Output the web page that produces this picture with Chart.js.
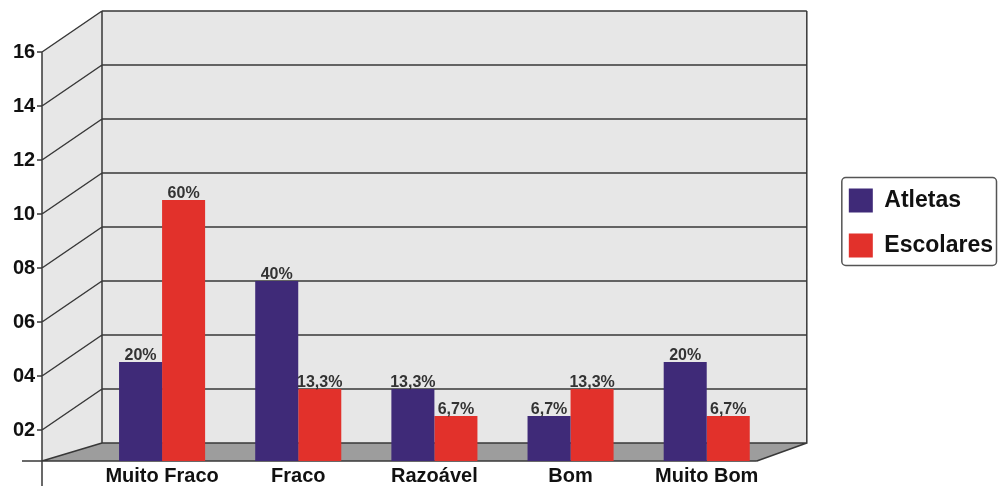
<!DOCTYPE html>
<html lang="pt">
<head>
<meta charset="utf-8">
<title>Atletas x Escolares</title>
<script src="https://cdn.jsdelivr.net/npm/chart.js@4.4.1/dist/chart.umd.min.js"></script>
<style>
  html, body { margin: 0; padding: 0; background: #fff; }
</style>
</head>
<body>
<canvas id="grafico" width="998" height="486"></canvas>
<script>
const categorias = ["Muito Fraco", "Fraco", "Razoável", "Bom", "Muito Bom"];
const atletas = [3, 6, 2, 1, 3];
const escolares = [9, 2, 1, 2, 1];
const atletasPct = ["20%", "40%", "13,3%", "6,7%", "20%"];
const escolaresPct = ["60%", "13,3%", "6,7%", "13,3%", "6,7%"];
const ticksY = [2, 4, 6, 8, 10, 12, 14, 16];

// profundidade do "chão" em unidades do eixo (18px / 27px)
const fundo = -2 / 3;
const fonte = '"Liberation Sans", Arial, sans-serif';
Chart.defaults.font.family = fonte;

// paredes, chão e grade em falso 3D
const parede = {
    id: "parede",
    beforeDraw(chart) {
        const { ctx, chartArea: ca, scales: { y } } = chart;
        const fx = ca.left - 52;
        const bx = ca.left + 8;
        const rx = ca.right + 32;
        const fr = ca.right - 18;
        const dy = 41;
        const topo = y.getPixelForValue(y.max);
        const zero = y.getPixelForValue(0);
        const chao = ca.bottom;

        ctx.save();
        ctx.fillStyle = "#e7e7e7";
        ctx.beginPath();
        ctx.moveTo(fx, topo + dy);
        ctx.lineTo(bx, topo);
        ctx.lineTo(bx, zero);
        ctx.lineTo(fx, chao);
        ctx.closePath();
        ctx.fill();
        ctx.fillRect(bx, topo, rx - bx, zero - topo);

        ctx.fillStyle = "#9d9d9d";
        ctx.beginPath();
        ctx.moveTo(fx, chao);
        ctx.lineTo(bx, zero);
        ctx.lineTo(rx, zero);
        ctx.lineTo(fr, chao);
        ctx.closePath();
        ctx.fill();

        ctx.strokeStyle = "#383838";
        ctx.lineWidth = 1.5;
        ctx.beginPath();
        ticksY.forEach((v) => {
            const py = y.getPixelForValue(v);
            ctx.moveTo(bx, py);
            ctx.lineTo(rx, py);
            ctx.moveTo(fx, py + dy);
            ctx.lineTo(bx, py);
            ctx.moveTo(fx - 5, py + dy);
            ctx.lineTo(fx, py + dy);
        });
        ctx.moveTo(bx, topo);
        ctx.lineTo(bx, zero);
        ctx.lineTo(rx, zero);
        ctx.lineTo(rx, topo);
        ctx.moveTo(fx, chao);
        ctx.lineTo(bx, zero);
        ctx.moveTo(rx, zero);
        ctx.lineTo(fr, chao);
        ctx.moveTo(fx - 20, chao);
        ctx.lineTo(fr, chao);
        ctx.moveTo(fx, topo + dy);
        ctx.lineTo(fx, chart.height);
        ctx.stroke();
        ctx.restore();
    },
};

// rótulos de porcentagem sobre as barras
const rotulos = {
    id: "rotulos",
    afterDatasetsDraw(chart) {
        const { ctx } = chart;
        ctx.save();
        ctx.font = "bold 16px " + fonte;
        ctx.fillStyle = "#333";
        ctx.textAlign = "center";
        ctx.textBaseline = "alphabetic";
        chart.data.datasets.forEach((ds, i) => {
            chart.getDatasetMeta(i).data.forEach((bar, j) => {
                ctx.fillText(ds.rotulos[j], bar.x, bar.y - 2);
            });
        });
        ctx.restore();
    },
};

// move a legenda para o lugar dela e desenha a moldura
const moldura = {
    id: "moldura",
    afterLayout(chart) {
        const lg = chart.legend;
        lg.top -= 13;
        lg.bottom -= 13;
        lg.left += 53;
        lg.right += 53;
    },
    afterDraw(chart) {
        const hb = chart.legend.legendHitBoxes;
        if (!hb || hb.length < 2) return;
        const { ctx } = chart;
        const x0 = hb[0].left - 7;
        const y0 = hb[0].top - 11;
        const x1 = chart.width - 1.5;
        const y1 = hb[1].top + hb[1].height + 8;
        ctx.save();
        ctx.strokeStyle = "#555";
        ctx.lineWidth = 1.5;
        ctx.beginPath();
        ctx.roundRect(x0, y0, x1 - x0, y1 - y0, 4);
        ctx.stroke();
        ctx.restore();
    },
};

new Chart(document.getElementById("grafico"), {
    type: "bar",
    data: {
        labels: categorias,
        datasets: [
            {
                label: "Atletas",
                data: atletas,
                rotulos: atletasPct,
                backgroundColor: "#3f2a78",
                borderWidth: 0,
                base: fundo,
            },
            {
                label: "Escolares",
                data: escolares,
                rotulos: escolaresPct,
                backgroundColor: "#e2312b",
                borderWidth: 0,
                base: fundo,
            },
        ],
    },
    options: {
        responsive: false,
        animation: false,
        categoryPercentage: 0.632,
        barPercentage: 1,
        layout: { padding: { top: 11, left: 13, right: 48, bottom: 0 } },
        plugins: {
            tooltip: { enabled: false },
            legend: {
                position: "right",
                fullSize: false,
                labels: {
                    boxWidth: 24,
                    boxHeight: 24,
                    padding: 21,
                    color: "#111",
                    font: { size: 23, weight: "bold" },
                },
            },
        },
        scales: {
            x: {
                afterFit: (s) => { s.height = 25; },
                grid: { display: false, drawTicks: false },
                border: { display: false },
                ticks: { padding: 3, color: "#111", font: { size: 20, weight: "bold" } },
            },
            y: {
                min: fundo,
                max: 16,
                afterBuildTicks: (s) => { s.ticks = ticksY.map((v) => ({ value: v })); },
                afterFit: (s) => { s.width = 81; },
                grid: { display: false, drawTicks: false },
                border: { display: false },
                ticks: {
                    padding: 0,
                    crossAlign: "far",
                    labelOffset: 41,
                    color: "#111",
                    font: { size: 20, weight: "bold", lineHeight: 1 },
                    callback: (v) => String(v).padStart(2, "0"),
                },
            },
        },
    },
    plugins: [parede, rotulos, moldura],
});
</script>
</body>
</html>
